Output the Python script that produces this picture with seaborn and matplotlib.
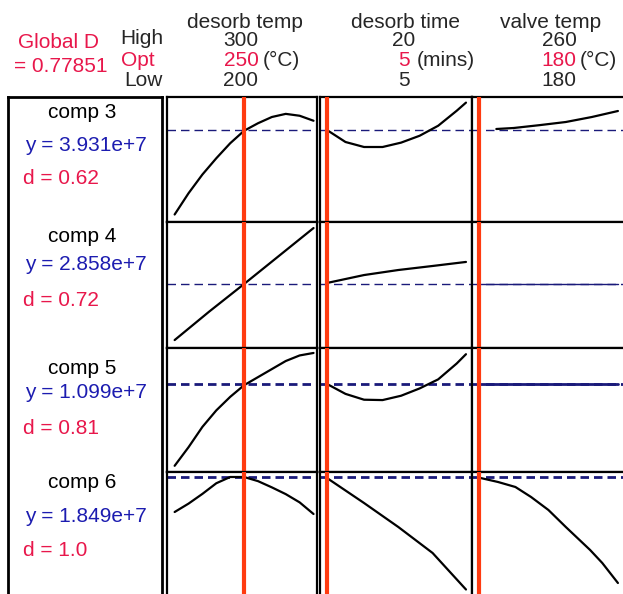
import matplotlib
matplotlib.use("Agg")
import matplotlib.pyplot as plt
import seaborn as sns

# factors (columns)
factors = ["desorb temp", "desorb time", "valve temp"]
factor_high = ["300", "20", "260"]
factor_opt = ["250", "5", "180"]
factor_low = ["200", "5", "180"]
factor_units = ["(°C)", "(mins)", "(°C)"]
opt_values = [250, 5, 180]
x_limits = [(194.5, 302.5), (4.25, 20.65), (176.0, 265.8)]

# responses (rows)
responses = ["comp 3", "comp 4", "comp 5", "comp 6"]
predicted_y = ["3.931e+7", "2.858e+7", "1.099e+7", "1.849e+7"]
desirability = ["0.62", "0.72", "0.81", "1.0"]
global_d = "0.77851"

# predicted response at the optimum, scaled 0-1 inside each row
y_at_opt = [0.736, 0.508, 0.71, 0.96]

# response traces, scaled 0-1 inside each row
comp3_temp_x = [200, 210, 220, 230, 240, 250, 260, 270, 280, 290, 300]
comp3_temp_y = [0.06, 0.23, 0.38, 0.51, 0.63, 0.73, 0.79, 0.84, 0.865, 0.85, 0.81]
comp3_time_x = [5, 7, 9, 11, 13, 15, 17, 19, 20]
comp3_time_y = [0.736, 0.64, 0.60, 0.60, 0.635, 0.69, 0.77, 0.89, 0.955]
comp3_valve_x = [190, 200, 215, 230, 245, 260]
comp3_valve_y = [0.744, 0.752, 0.775, 0.80, 0.84, 0.888]

comp4_temp_x = [200, 225, 250, 275, 300]
comp4_temp_y = [0.063, 0.29, 0.508, 0.73, 0.952]
comp4_time_x = [5, 9, 12.7, 16.4, 20]
comp4_time_y = [0.516, 0.579, 0.619, 0.651, 0.683]
comp4_valve_x = [180, 260]
comp4_valve_y = [0.508, 0.508]

comp5_temp_x = [200, 210, 220, 230, 240, 250, 260, 270, 280, 290, 300]
comp5_temp_y = [0.05, 0.2, 0.364, 0.497, 0.606, 0.70, 0.765, 0.83, 0.895, 0.94, 0.96]
comp5_time_x = [5, 7, 9, 11, 13, 15, 17, 19, 20]
comp5_time_y = [0.71, 0.63, 0.583, 0.58, 0.615, 0.674, 0.747, 0.875, 0.95]
comp5_valve_x = [180, 260]
comp5_valve_y = [0.71, 0.71]

comp6_temp_x = [200, 210, 220, 230, 240, 250, 260, 270, 280, 290, 300]
comp6_temp_y = [0.68, 0.747, 0.825, 0.91, 0.96, 0.96, 0.927, 0.877, 0.823, 0.757, 0.664]
comp6_time_x = [5, 9, 12.7, 16.4, 20]
comp6_time_y = [0.952, 0.752, 0.56, 0.352, 0.06]
comp6_valve_x = [180, 191, 201, 210, 220, 230, 244, 251, 260]
comp6_valve_y = [0.955, 0.92, 0.88, 0.8, 0.696, 0.56, 0.376, 0.272, 0.112]

traces = [
    [(comp3_temp_x, comp3_temp_y), (comp3_time_x, comp3_time_y), (comp3_valve_x, comp3_valve_y)],
    [(comp4_temp_x, comp4_temp_y), (comp4_time_x, comp4_time_y), (comp4_valve_x, comp4_valve_y)],
    [(comp5_temp_x, comp5_temp_y), (comp5_time_x, comp5_time_y), (comp5_valve_x, comp5_valve_y)],
    [(comp6_temp_x, comp6_temp_y), (comp6_time_x, comp6_time_y), (comp6_valve_x, comp6_valve_y)],
]

RED_TXT = "#e8174b"
BLUE_TXT = "#1c1cb0"
RED_LINE = "#ff3b10"
NAVY = "#1a1a7a"

W, H = 623, 594
sns.set_theme(style="white")
plt.rcParams["font.family"] = ["Liberation Sans", "DejaVu Sans"]

fig = plt.figure(figsize=(W / 100, H / 100), dpi=100)


def add_px_axes(x0, y0, x1, y1):
    # pixel box (top-left origin) -> figure axes
    return fig.add_axes([x0 / W, 1 - y1 / H, (x1 - x0) / W, (y1 - y0) / H])


def ftext(x, y, s, **kw):
    kw.setdefault("fontsize", 15)
    kw.setdefault("va", "center")
    fig.text(x / W, 1 - y / H, s, **kw)


col_edges = [(167, 317), (320, 472), (472, 628)]
row_edges = [(97, 222), (222, 348), (348, 472), (472, 597)]
dash_lw = [1.0, 1.0, 2.0, 2.0]

# left info box
box = add_px_axes(8, 97, 162, 610)
box.set_xticks([])
box.set_yticks([])
for sp in box.spines.values():
    sp.set_linewidth(2)
    sp.set_color("black")

label_y = [(113, 145, 178), (237, 265, 300), (368, 393, 428), (483, 517, 550)]
for i, (ly_comp, ly_y, ly_d) in enumerate(label_y):
    ftext(82, ly_comp, responses[i], ha="center", color="black")
    ftext(86, ly_y, f"y = {predicted_y[i]}", ha="center", color=BLUE_TXT)
    ftext(23, ly_d, f"d = {desirability[i]}", ha="left", color=RED_TXT)

# header
ftext(58, 42, "Global D", ha="center", color=RED_TXT)
ftext(61, 67, f"= {global_d}", ha="center", color=RED_TXT)
ftext(163, 39, "High", ha="right")
ftext(121, 60, "Opt", ha="left", color=RED_TXT)
ftext(163, 80, "Low", ha="right")

head_cx = [245, 405, 551]
val_cx = [241, 404, 559]
unit_x = [263, 417, 580]
for j in range(3):
    ftext(head_cx[j], 22, factors[j], ha="center")
    ftext(val_cx[j], 40, factor_high[j], ha="center")
    ftext(val_cx[j], 60, factor_opt[j], ha="center", color=RED_TXT)
    ftext(unit_x[j], 60, factor_units[j], ha="left")
    ftext(val_cx[j], 80, factor_low[j], ha="center")

# panels
for i, (r0, r1) in enumerate(row_edges):
    for j, (c0, c1) in enumerate(col_edges):
        ax = add_px_axes(c0, r0, c1, r1)
        ax.set_xlim(*x_limits[j])
        ax.set_ylim(0, 1)
        ax.set_xticks([])
        ax.set_yticks([])
        ax.set_xlabel("")
        ax.set_ylabel("")
        for sp in ax.spines.values():
            sp.set_linewidth(1.6)
            sp.set_color("black")
        on = 8.5 / (dash_lw[i] * 1.389)
        off = 5.0 / (dash_lw[i] * 1.389)
        ax.axhline(y_at_opt[i], color=NAVY, lw=dash_lw[i], dashes=(on, off), zorder=2)
        xs, ys = traces[i][j]
        flat = max(ys) == min(ys)
        sns.lineplot(x=xs, y=ys, ax=ax,
                     color=NAVY if flat else "black",
                     lw=dash_lw[i] if flat else 1.6, zorder=3)
        ax.axvline(opt_values[j], color=RED_LINE, lw=3, zorder=4)

fig.savefig("out.png", dpi=100)
